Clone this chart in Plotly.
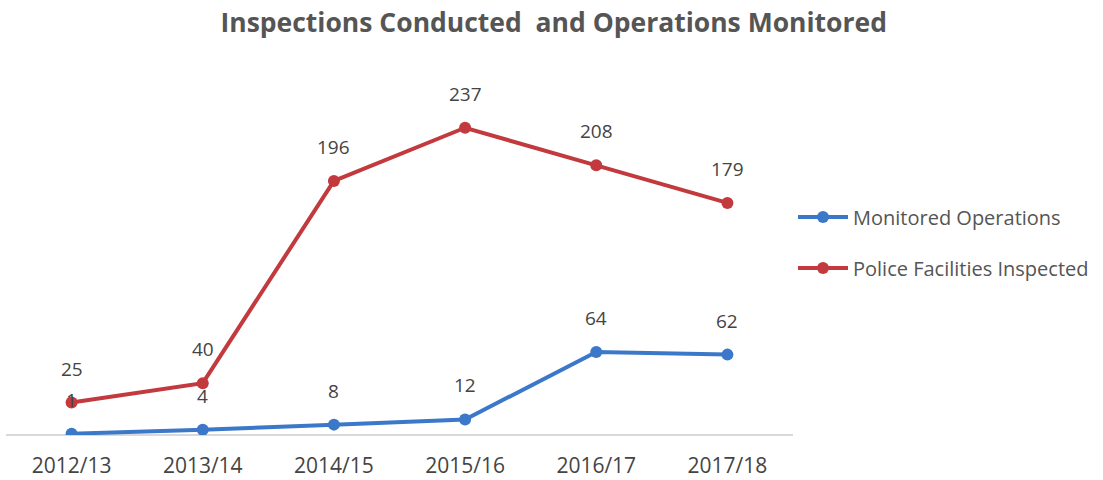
import plotly.graph_objects as go

years = ["2012/13", "2013/14", "2014/15", "2015/16", "2016/17", "2017/18"]
monitored_operations = [1, 4, 8, 12, 64, 62]
facilities_inspected = [25, 40, 196, 237, 208, 179]

BLUE = "#3b78c9"
RED = "#c23a3d"
TEXT = "#444444"

fig = go.Figure()
fig.add_trace(go.Scatter(
    x=years, y=monitored_operations, name="Monitored Operations",
    legendgroup="ops",
    mode="lines+markers", line=dict(color=BLUE, width=4),
    marker=dict(size=12, color=BLUE),
))
fig.add_trace(go.Scatter(
    x=years, y=facilities_inspected, name="Police Facilities Inspected",
    legendgroup="fac",
    mode="lines+markers", line=dict(color=RED, width=4),
    marker=dict(size=12, color=RED),
))

# value labels sit a fixed distance above each point
for series in (monitored_operations, facilities_inspected):
    for yr, v in zip(years, series):
        fig.add_annotation(
            x=yr, y=v, text=str(v), showarrow=False, yshift=34,
            font=dict(family="Open Sans", size=19, color=TEXT),
        )

fig.update_layout(
    width=1103, height=480,
    paper_bgcolor="white", plot_bgcolor="white",
    margin=dict(l=6, r=310, t=72, b=45),
    title=dict(
        text="<b>Inspections Conducted  and Operations Monitored</b>",
        x=0.502, xanchor="center", y=0.952, yanchor="middle",
        font=dict(family="Open Sans", size=26.5, color="#555555"),
    ),
    legend=dict(
        x=1.0, xanchor="left", y=0.53, yanchor="middle",
        font=dict(family="Open Sans", size=20, color="#555555"),
        traceorder="grouped", tracegroupgap=22, itemwidth=50,
        bgcolor="rgba(0,0,0,0)",
    ),
    showlegend=True,
)
fig.update_xaxes(
    type="category", range=[-0.5, 5.5], automargin=False,
    showgrid=False, showline=False, zeroline=False,
    ticks="", ticklabelstandoff=16,
    tickfont=dict(family="Open Sans", size=21, color=TEXT),
)
fig.update_yaxes(
    range=[0, 280], showgrid=False, showticklabels=False,
    zeroline=True, zerolinecolor="#d9d9d9", zerolinewidth=1.5,
    showline=False,
)

fig.write_html("out.html")
